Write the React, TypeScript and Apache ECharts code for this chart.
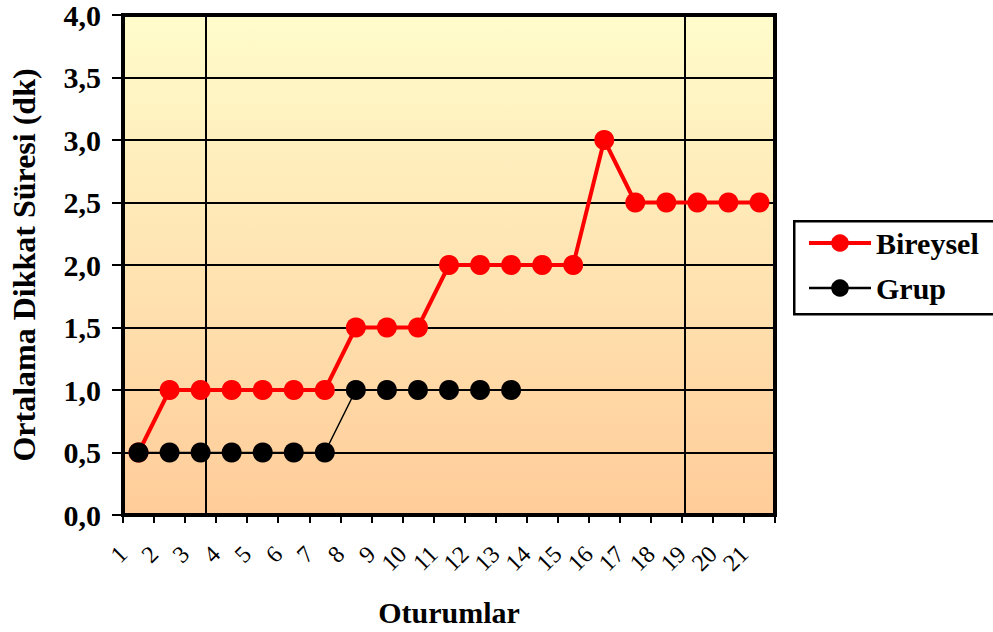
import React, { useEffect, useRef } from "react";
import * as echarts from "echarts";

// Session numbers shown along the x axis
const sessions: string[] = [
  "1", "2", "3", "4", "5", "6", "7", "8", "9", "10", "11",
  "12", "13", "14", "15", "16", "17", "18", "19", "20", "21",
];

// Average attention duration (minutes) per session
const bireysel: number[] = [
  0.5, 1, 1, 1, 1, 1, 1, 1.5, 1.5, 1.5, 2, 2, 2, 2, 2, 3, 2.5, 2.5, 2.5, 2.5, 2.5,
];
const grup: (number | null)[] = [
  0.5, 0.5, 0.5, 0.5, 0.5, 0.5, 0.5, 1, 1, 1, 1, 1, 1,
];

// Phase-change lines on the session scale (0 = left edge of session 1)
const phaseLines: number[] = [2.67, 18.09];

const yTicks = { min: 0, max: 4, interval: 0.5 };

const SERIF = "'Liberation Serif', 'Times New Roman', serif";

export default function App() {
  const ref = useRef<HTMLDivElement>(null);

  useEffect(() => {
    if (!ref.current) return;
    const chart = echarts.init(ref.current, undefined, { renderer: "svg" });

    // each session point sits in the middle of its slot
    const toPoints = (vals: (number | null)[]) =>
      vals.map((v, i) => [i + 0.5, v]).filter((p) => p[1] !== null && p[1] !== undefined);

    chart.setOption({
      animation: false,
      backgroundColor: "#ffffff",
      textStyle: { fontFamily: SERIF, color: "#000" },
      grid: {
        left: 121,
        right: 218,
        top: 15,
        bottom: 116,
        show: true,
        borderColor: "#000",
        borderWidth: 4,
        backgroundColor: new echarts.graphic.LinearGradient(0, 0, 0, 1, [
          { offset: 0, color: "#FFFCCB" },
          { offset: 1, color: "#FFCC99" },
        ]),
      },
      legend: {
        data: [
          { name: "Bireysel", lineStyle: { width: 4 } },
          { name: "Grup", lineStyle: { width: 2.5 } },
        ],
        orient: "vertical",
        left: 802,
        top: 223,
        itemWidth: 62,
        itemHeight: 22,
        itemGap: 15,
        textStyle: {
          fontFamily: SERIF,
          fontWeight: "bold",
          fontSize: 30,
          color: "#000",
        },
      },
      graphic: [
        {
          type: "rect",
          left: 793,
          top: 220,
          shape: { width: 220, height: 93 },
          style: { fill: "#fff", stroke: "#000", lineWidth: 2.5 },
          z: -1,
        },
      ],
      xAxis: {
        type: "value",
        min: 0,
        max: sessions.length,
        interval: 1,
        name: "Oturumlar",
        nameLocation: "middle",
        nameGap: 82,
        nameTextStyle: {
          fontFamily: SERIF,
          fontWeight: "bold",
          fontSize: 30,
          color: "#000",
        },
        axisLine: { show: true, lineStyle: { color: "#000", width: 4 } },
        axisTick: { show: true, length: 8, lineStyle: { color: "#000", width: 2 } },
        axisLabel: {
          rotate: 45,
          margin: 35,
          fontFamily: SERIF,
          fontSize: 24,
          color: "#000",
          showMaxLabel: true,
          formatter: (v: number) => sessions[Math.round(v)] ?? "",
        },
        splitLine: { show: false },
      },
      yAxis: {
        type: "value",
        min: yTicks.min,
        max: yTicks.max,
        interval: yTicks.interval,
        name: "Ortalama Dikkat Süresi (dk)",
        nameLocation: "middle",
        nameRotate: 90,
        nameGap: 83,
        nameTextStyle: {
          fontFamily: SERIF,
          fontWeight: "bold",
          fontSize: 32,
          color: "#000",
        },
        axisLine: { show: true, lineStyle: { color: "#000", width: 4 } },
        axisTick: { show: true, length: 11, lineStyle: { color: "#000", width: 2 } },
        axisLabel: {
          margin: 22,
          fontFamily: SERIF,
          fontWeight: "bold",
          fontSize: 30,
          color: "#000",
          formatter: (v: number) => v.toFixed(1).replace(".", ","),
        },
        splitLine: { show: true, lineStyle: { color: "#000", width: 2 } },
      },
      series: [
        {
          name: "Bireysel",
          type: "line",
          data: toPoints(bireysel),
          symbol: "circle",
          symbolSize: 20,
          lineStyle: { color: "#FF0000", width: 4 },
          itemStyle: { color: "#FF0000" },
          z: 3,
          markLine: {
            silent: true,
            symbol: ["none", "none"],
            label: { show: false },
            lineStyle: { color: "#000", width: 2, type: "solid" },
            data: phaseLines.map((x) => ({ xAxis: x })),
            z: 1,
          },
        },
        {
          name: "Grup",
          type: "line",
          data: toPoints(grup),
          symbol: "circle",
          symbolSize: 20,
          lineStyle: { color: "#000", width: 1.5 },
          itemStyle: { color: "#000" },
          z: 4,
        },
      ],
    });

    return () => chart.dispose();
  }, []);

  return (
    <div
      ref={ref}
      style={{ position: "fixed", left: 0, top: 0, width: 993, height: 632 }}
    />
  );
}
